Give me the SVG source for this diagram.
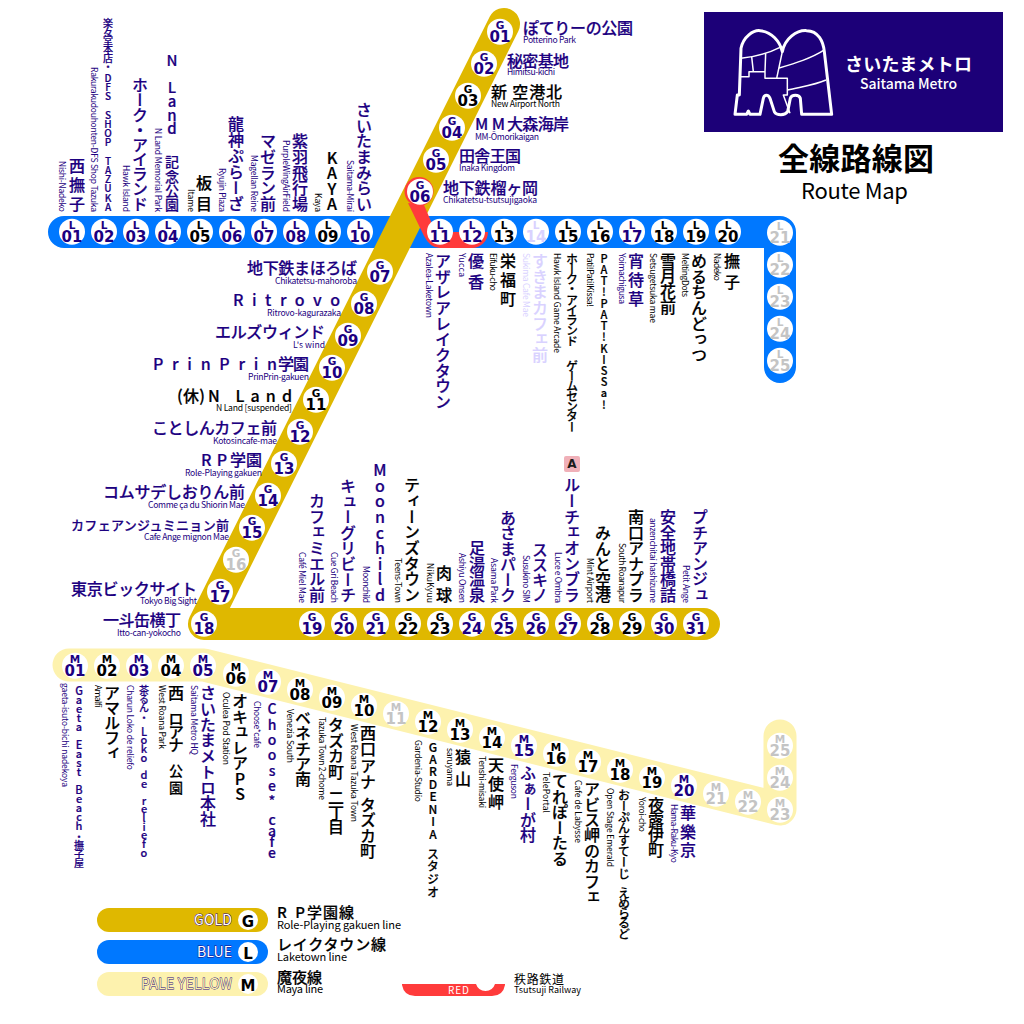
<svg xmlns="http://www.w3.org/2000/svg" width="1024" height="1024" viewBox="0 0 1024 1024">
<style>
text{font-family:"Noto Sans CJK JP","Noto Sans",sans-serif;fill:#1c0080}
.st circle{fill:#fff;transform:translateY(-.3px)}
.k text{fill:#000}
.x text{fill:#c4c4c4}
.p text{fill:#d9d2ff}
.b,.d{font-family:"DejaVu Sans",sans-serif;font-weight:700;text-anchor:middle}
.b{font-size:10.5px;transform:translateY(.7px)}
.d{font-size:15px}
.mv{writing-mode:vertical-rl;text-orientation:upright;font-size:16px;font-weight:500}
.sv{writing-mode:vertical-rl;font-size:8.600px}
.mh{font-size:16px;font-weight:500}
.mv,.mh{stroke:#1c0080;stroke-width:.2}
.k .mv,.k .mh{stroke:#000}
.p .mv{stroke:#d9d2ff}
.sh{font-size:8.600px}
.f14{font-size:14px}.f13{font-size:13px}.f12{font-size:12px}.f11{font-size:11px}.f10{font-size:10px}
.line{fill:none;stroke-width:32;stroke-linecap:round;stroke-linejoin:round}
.lg text{fill:#000}
.lgt{font-size:14px;stroke:#1c0080;stroke-width:.8;paint-order:stroke}
.lm{font-size:15px;font-weight:500;stroke:#000;stroke-width:.2}
.ls{font-size:11px}
</style>
<g id="connectors">
<path class="line" stroke="#0078ff" d="M64 232H780V367"/>
<path class="line" stroke="#fdf2ae" style="stroke-width:33" d="M69 665H204L780 809V736"/>
<path class="line" stroke="#dfb800" d="M504 24L204 624H704"/>
<circle cx="419" cy="191.500" r="14.500" fill="#ff3b3b"/>
<path fill="#ff3b3b" d="M408 203L424 236Q430 248 440 248H472A16 16 0 0 0 488 232H440L433 226L424 205Z"/>
</g>
<g id="logo">
<rect x="704" y="12" width="299" height="120" fill="#1c0078"/>
<g transform="translate(725 15) scale(.3333)" fill="none" stroke="#fff" stroke-linejoin="round">
<path stroke-width="9" d="M30 298L37 240L43 240L48 100C55 65 85 45 105 47C140 50 165 80 172 110C180 70 215 45 245 47C280 47 295 80 298 110L320 298H230L226 250C222 238 200 238 196 250L188 290C180 302 155 302 148 290L135 250C130 238 118 238 115 250L105 298H75L70 288L65 298Z"/>
<path stroke-width="4.500" d="M48 130C90 125 130 115 165 97M80 125L85 170M122 115L120 170M45 185H72V170H120V190H187V240H175L195 295M155 190L172 110M160 160C210 145 260 130 298 105M188 225C230 215 270 210 303 195"/>
</g>
<text x="845" y="71" textLength="127" style="fill:#fff;font-size:18px;font-weight:700">さいたまメトロ</text>
<text x="860" y="89" textLength="97" style="fill:#fff;font-size:14px;font-weight:500">Saitama Metro</text>
<text x="778" y="170" textLength="156" style="fill:#000;font-size:31px;font-weight:700">全線路線図</text>
<text x="801" y="199" textLength="107" style="fill:#000;font-size:22px">Route Map</text>
</g>
<g id="stations-L">
<g id="L01" class="st"><circle cx="72" cy="232" r="13"/><text class="b" x="72" y="228">L</text><text class="d" x="72" y="242">01</text><text class="mv" x="77" y="158" textLength="54">西撫子</text><text class="sv" x="63" y="161" textLength="51">Nishi-Nadeko</text></g>
<g id="L02" class="st"><circle cx="104" cy="232" r="13"/><text class="b" x="104" y="228">L</text><text class="d" x="104" y="242">02</text><text class="mv f10" x="108" y="18"><tspan textLength="54">楽々堂本店・</tspan><tspan y="73" textLength="139">DFS SHOP TAZUKA</tspan></text><text class="sv" x="95" y="67" textLength="145">Rakurakudouhonten-DFS Shop Tazuka</text></g>
<g id="L03" class="st"><circle cx="136" cy="232" r="13"/><text class="b" x="136" y="228">L</text><text class="d" x="136" y="242">03</text><text class="mv" x="140" y="77" textLength="135">ホーク・アイランド</text><text class="sv" x="127" y="165" textLength="47">Hawk Island</text></g>
<g id="L04" class="st"><circle cx="168" cy="232" r="13"/><text class="b" x="168" y="228">L</text><text class="d" x="168" y="242">04</text><text class="mv" x="172" y="53" style="font-size:15px"><tspan textLength="83">N Land</tspan> <tspan y="155" style="font-size:14px" textLength="57">記念公園</tspan></text><text class="sv" x="159" y="128" textLength="84">N Land Memorial Park</text></g>
<g id="L05" class="st k"><circle cx="200" cy="232" r="13"/><text class="b" x="200" y="228">L</text><text class="d" x="200" y="242">05</text><text class="mv" x="204" y="175" textLength="37">板目</text><text class="sv" x="192" y="189" textLength="23">Itame</text></g>
<g id="L06" class="st"><circle cx="232" cy="232" r="13"/><text class="b" x="232" y="228">L</text><text class="d" x="232" y="242">06</text><text class="mv" x="236" y="116" textLength="96">龍神ぷらーざ</text><text class="sv" x="223" y="168" textLength="44">Ryujin Plaza</text></g>
<g id="L07" class="st"><circle cx="264" cy="232" r="13"/><text class="b" x="264" y="228">L</text><text class="d" x="264" y="242">07</text><text class="mv" x="268" y="133" textLength="79">マゼラン前</text><text class="sv" x="255" y="155" textLength="57">Magellan Reine</text></g>
<g id="L08" class="st"><circle cx="296" cy="232" r="13"/><text class="b" x="296" y="228">L</text><text class="d" x="296" y="242">08</text><text class="mv" x="300" y="133" textLength="79">紫羽飛行場</text><text class="sv" x="287" y="140" textLength="72">PurpleWingAirField</text></g>
<g id="L09" class="st k"><circle cx="328" cy="232" r="13"/><text class="b" x="328" y="228">L</text><text class="d" x="328" y="242">09</text><text class="mv" x="332" y="150" textLength="62">KAYA</text><text class="sv" x="319" y="193" textLength="19">Kaya</text></g>
<g id="L10" class="st"><circle cx="360" cy="232" r="13"/><text class="b" x="360" y="228">L</text><text class="d" x="360" y="242">10</text><text class="mv" x="364" y="102" textLength="110">さいたまみらい</text><text class="sv" x="351" y="160" textLength="52">Saitama-Mirai</text></g>
<g id="L11" class="st"><circle cx="440" cy="232" r="13"/><text class="b" x="440" y="228">L</text><text class="d" x="440" y="242">11</text><text class="mv" x="443" y="253" textLength="157">アザレアレイクタウン</text><text class="sv" x="430" y="253" textLength="65">Azalea-Laketown</text></g>
<g id="L12" class="st"><circle cx="472" cy="232" r="13"/><text class="b" x="472" y="228">L</text><text class="d" x="472" y="242">12</text><text class="mv" x="476" y="253" textLength="37">優香</text><text class="sv" x="463" y="253" textLength="24">Yucca</text></g>
<g id="L13" class="st k"><circle cx="504" cy="232" r="13"/><text class="b" x="504" y="228">L</text><text class="d" x="504" y="242">13</text><text class="mv" x="508" y="253" textLength="54">栄福町</text><text class="sv" x="494" y="253" textLength="38">Eifuku-cho</text></g>
<g id="L14" class="st p"><circle cx="536" cy="232" r="13"/><text class="b" x="536" y="228">L</text><text class="d" x="536" y="242">14</text><text class="mv" x="540" y="253" textLength="110">すきまカフェ前</text><text class="sv" x="527" y="253" textLength="64">Sukima Cafe Mae</text></g>
<g id="L15" class="st k"><circle cx="568" cy="232" r="13"/><text class="b" x="568" y="228">L</text><text class="d" x="568" y="242">15</text><text class="mv f12" x="572" y="253"><tspan textLength="94">ホーク・アイランド</tspan> <tspan y="360" textLength="73">ゲームセンター</tspan></text><text class="sv" x="558" y="253" textLength="100">Hawk Island Game Arcade</text></g>
<g id="L16" class="st k"><circle cx="600" cy="232" r="13"/><text class="b" x="600" y="228">L</text><text class="d" x="600" y="242">16</text><text class="mv f11" x="604" y="253" textLength="157">PAT!PAT!KISSa!</text><text class="sv" x="591" y="253" textLength="54">Pati!Pati!Kissa!</text></g>
<g id="L17" class="st"><circle cx="632" cy="232" r="13"/><text class="b" x="632" y="228">L</text><text class="d" x="632" y="242">17</text><text class="mv" x="636" y="253" textLength="54">宵待草</text><text class="sv" x="623" y="253" textLength="51">Yoimachigusa</text></g>
<g id="L18" class="st k"><circle cx="664" cy="232" r="13"/><text class="b" x="664" y="228">L</text><text class="d" x="664" y="242">18</text><text class="mv" x="668" y="253" textLength="62">雪月花前</text><text class="sv" x="654" y="253" textLength="70">Setsugetsuka mae</text></g>
<g id="L19" class="st k"><circle cx="696" cy="232" r="13"/><text class="b" x="696" y="228">L</text><text class="d" x="696" y="242">19</text><text class="mv" x="699" y="253" textLength="110">めるちんどっつ</text><text class="sv" x="686" y="253" textLength="44">MeltingDots</text></g>
<g id="L20" class="st k"><circle cx="728" cy="232" r="13"/><text class="b" x="728" y="228">L</text><text class="d" x="728" y="242">20</text><text class="mv" x="732" y="253" textLength="37">撫子</text><text class="sv" x="718" y="253" textLength="28">Nadeko</text></g>
<g id="L21" class="st x"><circle cx="780" cy="233" r="13"/><text class="b" x="780" y="229">L</text><text class="d" x="780" y="243">21</text></g>
<g id="L22" class="st x"><circle cx="780" cy="265" r="13"/><text class="b" x="780" y="261">L</text><text class="d" x="780" y="275">22</text></g>
<g id="L23" class="st x"><circle cx="780" cy="297" r="13"/><text class="b" x="780" y="293">L</text><text class="d" x="780" y="307">23</text></g>
<g id="L24" class="st x"><circle cx="780" cy="329" r="13"/><text class="b" x="780" y="325">L</text><text class="d" x="780" y="339">24</text></g>
<g id="L25" class="st x"><circle cx="780" cy="361" r="13"/><text class="b" x="780" y="357">L</text><text class="d" x="780" y="371">25</text></g>
</g>
<g id="stations-G">
<g id="G01" class="st"><circle cx="500" cy="32" r="13"/><text class="b" x="500" y="28">G</text><text class="d" x="500" y="42">01</text><text class="mh" x="523" y="34" textLength="110">ぽてりーの公園</text><text class="sh" x="523" y="43" textLength="53">Potterino Park</text></g>
<g id="G02" class="st"><circle cx="484" cy="64" r="13"/><text class="b" x="484" y="60">G</text><text class="d" x="484" y="74">02</text><text class="mh" x="507" y="67" textLength="62">秘密基地</text><text class="sh" x="507" y="75" textLength="48">Himitsu-kichi</text></g>
<g id="G03" class="st k"><circle cx="468" cy="96" r="13"/><text class="b" x="468" y="92">G</text><text class="d" x="468" y="106">03</text><text class="mh" x="491" y="98" textLength="71">新 空港北</text><text class="sh" x="491" y="107" textLength="69">New Airport North</text></g>
<g id="G04" class="st"><circle cx="452" cy="128" r="13"/><text class="b" x="452" y="124">G</text><text class="d" x="452" y="138">04</text><text class="mh" y="130"><tspan x="475" textLength="30">MM</tspan><tspan x="507" textLength="62">大森海岸</tspan></text><text class="sh" x="475" y="140" textLength="64">MM-Ōmorikaigan</text></g>
<g id="G05" class="st"><circle cx="436" cy="160" r="13"/><text class="b" x="436" y="156">G</text><text class="d" x="436" y="170">05</text><text class="mh" x="459" y="162" textLength="62">田舎王国</text><text class="sh" x="459" y="171" textLength="56">Inaka Kingdom</text></g>
<g id="G06" class="st"><circle cx="420" cy="192" r="13"/><text class="b" x="420" y="188">G</text><text class="d" x="420" y="202">06</text><text class="mh" x="443" y="194" textLength="95">地下鉄榴ヶ岡</text><text class="sh" x="443" y="203" textLength="94">Chikatetsu-tsutsujigaoka</text></g>
<g id="G07" class="st"><circle cx="380" cy="272" r="13"/><text class="b" x="380" y="268">G</text><text class="d" x="380" y="282">07</text><text class="mh" x="247" y="274" textLength="110">地下鉄まほろば</text><text class="sh" x="275" y="284" textLength="82">Chikatetsu-mahoroba</text></g>
<g id="G08" class="st"><circle cx="364" cy="304" r="13"/><text class="b" x="364" y="300">G</text><text class="d" x="364" y="314">08</text><text class="mh" x="233" y="306" textLength="107">Ritrovo</text><text class="sh" x="267" y="316" textLength="74">Ritrovo-kagurazaka</text></g>
<g id="G09" class="st"><circle cx="348" cy="336" r="13"/><text class="b" x="348" y="332">G</text><text class="d" x="348" y="346">09</text><text class="mh" x="215" y="338" textLength="110">エルズウィンド</text><text class="sh" x="293" y="348" textLength="32">L's wind</text></g>
<g id="G10" class="st"><circle cx="332" cy="368" r="13"/><text class="b" x="332" y="364">G</text><text class="d" x="332" y="378">10</text><text class="mh" y="370"><tspan x="153" textLength="124">PrinPrin</tspan><tspan x="278" textLength="31">学園</tspan></text><text class="sh" x="248" y="380" textLength="61">PrinPrin-gakuen</text></g>
<g id="G11" class="st k"><circle cx="316" cy="400" r="13"/><text class="b" x="316" y="396">G</text><text class="d" x="316" y="410">11</text><text class="mh" y="402"><tspan x="177" textLength="28">(休)</tspan><tspan x="208" textLength="84">N Land</tspan></text><text class="sh" x="216" y="411" textLength="76">N Land [suspended]</text></g>
<g id="G12" class="st"><circle cx="300" cy="432" r="13"/><text class="b" x="300" y="428">G</text><text class="d" x="300" y="442">12</text><text class="mh" x="152" y="434" textLength="125">ことしんカフェ前</text><text class="sh" x="213" y="444" textLength="64">Kotosincafe-mae</text></g>
<g id="G13" class="st"><circle cx="284" cy="464" r="13"/><text class="b" x="284" y="460">G</text><text class="d" x="284" y="474">13</text><text class="mh" y="466"><tspan x="201" textLength="26">RP</tspan><tspan x="230" textLength="32">学園</tspan></text><text class="sh" x="185" y="476" textLength="77">Role-Playing gakuen</text></g>
<g id="G14" class="st"><circle cx="268" cy="496" r="13"/><text class="b" x="268" y="492">G</text><text class="d" x="268" y="506">14</text><text class="mh" x="103" y="498" textLength="142">コムサデしおりん前</text><text class="sh" x="148" y="508" textLength="97">Comme ça du Shiorin Mae</text></g>
<g id="G15" class="st"><circle cx="252" cy="528" r="13"/><text class="b" x="252" y="524">G</text><text class="d" x="252" y="538">15</text><text class="mh f13" x="71" y="530" textLength="158">カフェアンジュミニョン前</text><text class="sh" x="144" y="540" textLength="85">Cafe Ange mignon Mae</text></g>
<g id="G16" class="st x"><circle cx="236" cy="560" r="13"/><text class="b" x="236" y="556">G</text><text class="d" x="236" y="570">16</text></g>
<g id="G17" class="st"><circle cx="220" cy="592" r="13"/><text class="b" x="220" y="588">G</text><text class="d" x="220" y="602">17</text><text class="mh" x="71" y="595" textLength="126">東京ビックサイト</text><text class="sh" x="140" y="604" textLength="57">Tokyo Big Sight</text></g>
<g id="G18" class="st"><circle cx="204" cy="624" r="13"/><text class="b" x="204" y="620">G</text><text class="d" x="204" y="634">18</text><text class="mh" x="103" y="626" textLength="78">一斗缶横丁</text><text class="sh" x="117" y="636" textLength="64">Itto-can-yokocho</text></g>
<g id="G19" class="st"><circle cx="312" cy="624" r="13"/><text class="b" x="312" y="620">G</text><text class="d" x="312" y="634">19</text><text class="mv" x="317" y="493" textLength="110">カフェミエル前</text><text class="sv" x="303" y="552" textLength="51">Café Miel Mae</text></g>
<g id="G20" class="st"><circle cx="344" cy="624" r="13"/><text class="b" x="344" y="620">G</text><text class="d" x="344" y="634">20</text><text class="mv" x="348" y="478" textLength="125">キューグリビーチ</text><text class="sv" x="335" y="552" textLength="51">Cue Gri Beach</text></g>
<g id="G21" class="st"><circle cx="376" cy="624" r="13"/><text class="b" x="376" y="620">G</text><text class="d" x="376" y="634">21</text><text class="mv" x="380" y="462" textLength="141">Moonchild</text><text class="sv" x="367" y="566" textLength="37">Moonchild</text></g>
<g id="G22" class="st k"><circle cx="408" cy="624" r="13"/><text class="b" x="408" y="620">G</text><text class="d" x="408" y="634">22</text><text class="mv" x="412" y="477" textLength="126">ティーンズタウン</text><text class="sv" x="399" y="558" textLength="45">Teens-Town</text></g>
<g id="G23" class="st k"><circle cx="440" cy="624" r="13"/><text class="b" x="440" y="620">G</text><text class="d" x="440" y="634">23</text><text class="mv" x="444" y="565" textLength="38">肉球</text><text class="sv" x="431" y="563" textLength="40">NikuKyuu</text></g>
<g id="G24" class="st"><circle cx="472" cy="624" r="13"/><text class="b" x="472" y="620">G</text><text class="d" x="472" y="634">24</text><text class="mv" x="477" y="540" textLength="63">足湯温泉</text><text class="sv" x="463" y="553" textLength="50">Ashiyu Onsen</text></g>
<g id="G25" class="st"><circle cx="504" cy="624" r="13"/><text class="b" x="504" y="620">G</text><text class="d" x="504" y="634">25</text><text class="mv" x="508" y="510" textLength="93">あさまパーク</text><text class="sv" x="495" y="558" textLength="45">Asama Park</text></g>
<g id="G26" class="st"><circle cx="536" cy="624" r="13"/><text class="b" x="536" y="620">G</text><text class="d" x="536" y="634">26</text><text class="mv" x="540" y="542" textLength="61">ススキノ</text><text class="sv" x="527" y="555" textLength="48">Susukino SIM</text></g>
<g id="G27" class="st"><circle cx="568" cy="624" r="13"/><text class="b" x="568" y="620">G</text><text class="d" x="568" y="634">27</text><rect x="564" y="456" width="16" height="16" rx="2" fill="#f0b0b8"/><text x="572" y="468" style="fill:#1a1a1a;font:700 12px 'DejaVu Sans',sans-serif;text-anchor:middle">A</text><text class="mv" x="572" y="477" textLength="126">ルーチェオンブラ</text><text class="sv" x="559" y="552" textLength="51">Luce e Ombra</text></g>
<g id="G28" class="st k"><circle cx="600" cy="624" r="13"/><text class="b" x="600" y="620">G</text><text class="d" x="600" y="634">28</text><text class="mv" x="603" y="525" textLength="78">みんと空港</text><text class="sv" x="591" y="558" textLength="45">Mint Airport</text></g>
<g id="G29" class="st k"><circle cx="632" cy="624" r="13"/><text class="b" x="632" y="620">G</text><text class="d" x="632" y="634">29</text><text class="mv" x="636" y="509" textLength="94">南口アナプラ</text><text class="sv" x="623" y="543" textLength="60">South Roanapur</text></g>
<g id="G30" class="st"><circle cx="664" cy="624" r="13"/><text class="b" x="664" y="620">G</text><text class="d" x="664" y="634">30</text><text class="mv" x="668" y="509" textLength="94">安全地帯橋詰</text><text class="sv" x="654" y="518" textLength="85">anzenchitai hashizume</text></g>
<g id="G31" class="st"><circle cx="696" cy="624" r="13"/><text class="b" x="696" y="620">G</text><text class="d" x="696" y="634">31</text><text class="mv" x="700" y="509" textLength="94">プチアンジュ</text><text class="sv" x="687" y="565" textLength="38">Petit Ange</text></g>
</g>
<g id="stations-M">
<g id="M01" class="st"><circle cx="75" cy="666" r="13"/><text class="b" x="75" y="662">M</text><text class="d" x="75" y="676">01</text><text class="mv f11" x="79" y="685"><tspan textLength="146">Gaeta East Beach</tspan><tspan y="832" style="font-size:10px" textLength="36">・撫子屋</tspan></text><text class="sv" x="66" y="683" textLength="104">gaeta-isuto-bichi nadekoya</text></g>
<g id="M02" class="st k"><circle cx="107" cy="666" r="13"/><text class="b" x="107" y="662">M</text><text class="d" x="107" y="676">02</text><text class="mv" x="112" y="685" textLength="76">アマルフィ</text><text class="sv" x="99" y="685" textLength="23">Amalfi</text></g>
<g id="M03" class="st"><circle cx="139" cy="666" r="13"/><text class="b" x="139" y="662">M</text><text class="d" x="139" y="676">03</text><text class="mv f11" x="144" y="685"><tspan style="font-size:10px" textLength="38">茶るん・</tspan><tspan y="726" textLength="132">Loko de reliefo</tspan></text><text class="sv" x="131" y="685" textLength="85">Charun Loko de reliefo</text></g>
<g id="M04" class="st k"><circle cx="171" cy="666" r="13"/><text class="b" x="171" y="662">M</text><text class="d" x="171" y="676">04</text><text class="mv" x="176" y="685"><tspan textLength="68">西 ロアナ</tspan> <tspan y="764" style="font-size:14px" textLength="31">公園</tspan></text><text class="sv" x="163" y="685" textLength="64">West Roana Park</text></g>
<g id="M05" class="st"><circle cx="203" cy="666" r="13"/><text class="b" x="203" y="662">M</text><text class="d" x="203" y="676">05</text><text class="mv" x="208" y="685" textLength="142">さいたまメトロ本社</text><text class="sv" x="195" y="685" textLength="70">Saitama Metro HQ</text></g>
<g id="M06" class="st k"><circle cx="236" cy="674" r="13"/><text class="b" x="236" y="670">M</text><text class="d" x="236" y="684">06</text><text class="mv" x="240" y="693"><tspan textLength="78">オキュレア</tspan><tspan y="771" textLength="31">PS</tspan></text><text class="sv" x="227" y="692" textLength="73">Oculea Pod Station</text></g>
<g id="M07" class="st"><circle cx="268" cy="682" r="13"/><text class="b" x="268" y="678">M</text><text class="d" x="268" y="692">07</text><text class="mv f14" x="272" y="702"><tspan textLength="106">Choose*</tspan><tspan y="813" textLength="47">cafe</tspan></text><text class="sv" x="258" y="701" textLength="47">Choose*cafe</text></g>
<g id="M08" class="st k"><circle cx="300" cy="690" r="13"/><text class="b" x="300" y="686">M</text><text class="d" x="300" y="700">08</text><text class="mv" x="303" y="710" textLength="77">ベネチア南</text><text class="sv" x="291" y="709" textLength="54">Venezia South</text></g>
<g id="M09" class="st k"><circle cx="332" cy="698" r="13"/><text class="b" x="332" y="694">M</text><text class="d" x="332" y="708">09</text><text class="mv" x="336" y="717"><tspan textLength="63">タズカ町</tspan> <tspan y="790" textLength="45">二丁目</tspan></text><text class="sv" x="323" y="717" textLength="83">Tazuka Town 2-chome</text></g>
<g id="M10" class="st k"><circle cx="364" cy="706" r="13"/><text class="b" x="364" y="702">M</text><text class="d" x="364" y="716">10</text><text class="mv" x="368" y="725"><tspan textLength="65">西口アナ</tspan> <tspan y="797" textLength="62">タズカ町</tspan></text><text class="sv" x="355" y="724" textLength="98">West Roana Tazuka Town</text></g>
<g id="M11" class="st x"><circle cx="396" cy="714" r="13"/><text class="b" x="396" y="710">M</text><text class="d" x="396" y="724">11</text></g>
<g id="M12" class="st k"><circle cx="428" cy="722" r="13"/><text class="b" x="428" y="718">M</text><text class="d" x="428" y="732">12</text><text class="mv f12" x="433" y="741"><tspan textLength="99">GARDENIA</tspan> <tspan y="848" textLength="50">スタジオ</tspan></text><text class="sv" x="419" y="740" textLength="62">Gardenia-Studio</text></g>
<g id="M13" class="st k"><circle cx="460" cy="730" r="13"/><text class="b" x="460" y="726">M</text><text class="d" x="460" y="740">13</text><text class="mv" x="463" y="749" textLength="38">猿山</text><text class="sv" x="451" y="748" textLength="38">saruyama</text></g>
<g id="M14" class="st k"><circle cx="492" cy="738" r="13"/><text class="b" x="492" y="734">M</text><text class="d" x="492" y="748">14</text><text class="mv" x="496" y="757" textLength="53">天使岬</text><text class="sv" x="483" y="756" textLength="52">Tenshi-misaki</text></g>
<g id="M15" class="st"><circle cx="524" cy="746" r="13"/><text class="b" x="524" y="742">M</text><text class="d" x="524" y="756">15</text><text class="mv" x="528" y="765" textLength="78">ふぁーが村</text><text class="sv" x="515" y="764" textLength="35">Ferguson</text></g>
<g id="M16" class="st k"><circle cx="556" cy="754" r="13"/><text class="b" x="556" y="750">M</text><text class="d" x="556" y="764">16</text><text class="mv" x="560" y="773" textLength="94">てれぽーたる</text><text class="sv" x="547" y="772" textLength="41">TelePortal</text></g>
<g id="M17" class="st k"><circle cx="588" cy="762" r="13"/><text class="b" x="588" y="758">M</text><text class="d" x="588" y="772">17</text><text class="mv" x="592" y="781" textLength="124">アビス岬のカフェ</text><text class="sv" x="579" y="780" textLength="63">Cafe de Labysse</text></g>
<g id="M18" class="st k"><circle cx="620" cy="770" r="13"/><text class="b" x="620" y="766">M</text><text class="d" x="620" y="780">18</text><text class="mv f12" x="624" y="789"><tspan textLength="91">おーぷんすてーじ</tspan> <tspan y="887" textLength="53">えめらるど</tspan></text><text class="sv" x="611" y="788" textLength="79">Open Stage Emerald</text></g>
<g id="M19" class="st k"><circle cx="652" cy="778" r="13"/><text class="b" x="652" y="774">M</text><text class="d" x="652" y="788">19</text><text class="mv" x="656" y="797" textLength="61">夜露伊町</text><text class="sv" x="643" y="797" textLength="35">Yoroi-cho</text></g>
<g id="M20" class="st"><circle cx="684" cy="786" r="13"/><text class="b" x="684" y="782">M</text><text class="d" x="684" y="796">20</text><text class="mv" x="688" y="805" textLength="53">華樂京</text><text class="sv" x="675" y="804" textLength="59">Hama-Raku-Kyo</text></g>
<g id="M21" class="st x"><circle cx="716" cy="794" r="13"/><text class="b" x="716" y="790">M</text><text class="d" x="716" y="804">21</text></g>
<g id="M22" class="st x"><circle cx="748" cy="802" r="13"/><text class="b" x="748" y="798">M</text><text class="d" x="748" y="812">22</text></g>
<g id="M23" class="st x"><circle cx="780" cy="810" r="13"/><text class="b" x="780" y="806">M</text><text class="d" x="780" y="820">23</text></g>
<g id="M24" class="st x"><circle cx="780" cy="778" r="13"/><text class="b" x="780" y="774">M</text><text class="d" x="780" y="788">24</text></g>
<g id="M25" class="st x"><circle cx="780" cy="746" r="13"/><text class="b" x="780" y="742">M</text><text class="d" x="780" y="756">25</text></g>
</g>
<g id="legend" class="lg">
<rect x="97" y="908" width="171" height="24" rx="12" fill="#dfb800"/>
<rect x="97" y="940" width="171" height="24" rx="12" fill="#0078ff"/>
<rect x="97" y="972" width="171" height="24" rx="12" fill="#fdf2ae"/>
<text class="lgt" x="194" y="925" textLength="38" style="fill:#fff">GOLD</text>
<text class="lgt" x="197" y="957" textLength="35" style="fill:#fff">BLUE</text>
<text class="lgt" x="141" y="989" textLength="91" style="fill:#fdf2ae">PALE YELLOW</text>
<circle cx="248" cy="920" r="10" fill="#fff"/><text class="b" x="248" y="926" style="font-size:15px">G</text>
<circle cx="248" cy="952" r="10" fill="#fff"/><text class="b" x="248" y="958" style="font-size:15px">L</text>
<circle cx="248" cy="984" r="10" fill="#fff"/><text class="b" x="248" y="990" style="font-size:15px">M</text>
<text class="lm" y="918"><tspan x="277" textLength="28">RP</tspan><tspan x="307" textLength="47">学園線</tspan></text><text class="ls" x="277" y="929" textLength="124">Role-Playing gakuen line</text>
<text class="lm" x="277" y="950" textLength="109">レイクタウン線</text><text class="ls" x="277" y="961" textLength="70">Laketown line</text>
<text class="lm" x="277" y="983" textLength="45">魔夜線</text><text class="ls" x="277" y="993" textLength="46">Maya line</text>
<path fill="#ff3b3b" d="M402 984H476A10 10 0 0 0 495 984H505V985Q503 996 492 996H415Q404 996 402 985Z"/>
<text x="448" y="994" textLength="21" style="fill:#fff;font-size:10px">RED</text>
<text class="f12" x="514" y="984" textLength="50">秩路鉄道</text><text x="514" y="993" textLength="67" style="font-size:9px">Tsutsuji Railway</text>
</g>
</svg>
